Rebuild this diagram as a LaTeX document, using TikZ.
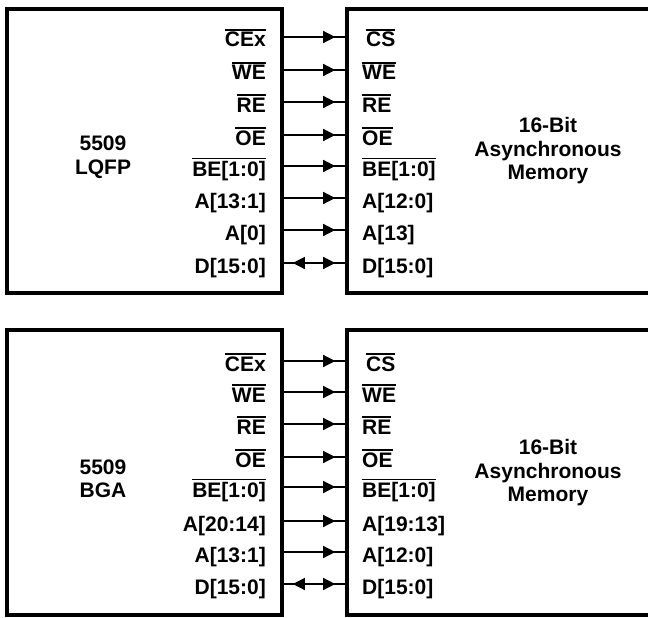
\documentclass[tikz,border=0pt]{standalone}
\usepackage{fontspec}
\setmainfont{Liberation Sans}
\usetikzlibrary{arrows.meta}
\newcommand\ovl[1]{\vbox{\hrule height 1.3pt\kern 1.8pt\hbox{#1}}}
\begin{document}
\begin{tikzpicture}[x=1pt,y=-1pt,
  box/.style={draw,line width=3.6pt,minimum width=275pt,minimum height=284pt,inner sep=0pt},
  membox/.style={box,minimum width=353pt},
  sig/.style={line width=1.3pt},
  tip/.tip={Triangle[length=12pt,width=12pt]},
  head/.style={sig,-tip,shorten >=10pt},
  dhead/.style={sig,tip-tip,shorten >=10pt,shorten <=9pt},
  lbl/.style={font=\fontsize{21}{23.5}\selectfont\bfseries,inner sep=0pt},
  pinL/.style={lbl,anchor=base east},
  pinR/.style={lbl,anchor=base west},
  title/.style={lbl,align=center}]
\useasboundingbox (0,0) rectangle (648,618);
% ---------- top pair ----------
\node[box] (cpuA) at (144.5,151) {};
\node[membox] (memA) at (523.5,151) {};
\node[title] (tcpuA) at (103,157) {5509\\LQFP};
\node[title] (tmemA) at (548,151) {16-Bit\\Asynchronous\\Memory};
\foreach \i/\y/\l/\r in {1/37/\ovl{CEx}/\kern4pt\ovl{CS},
                         2/70/\ovl{WE}/\ovl{WE},
                         3/102/\ovl{RE}/\ovl{RE},
                         4/135/\ovl{OE}/\ovl{OE},
                         5/166/\ovl{BE[1:0]}/\ovl{BE[1:0]},
                         6/198/A[13:1]/A[12:0],
                         7/230/A[0]/A[13],
                         8/263/D[15:0]/D[15:0]}{
  \coordinate (ra\i) at (0,\y);
  \node[pinL] (la\i) at (266,\y+10) {\l};
  \node[pinR] (ma\i) at (362,\y+10) {\r};
  \draw[sig] (cpuA.east |- ra\i) -- (memA.west |- ra\i);
}
\foreach \i in {1,...,7}{
  \draw[head] (cpuA.east |- ra\i) -- (memA.west |- ra\i);
}
\draw[dhead] (cpuA.east |- ra8) -- (memA.west |- ra8);
% ---------- bottom pair ----------
\node[box,minimum height=285pt] (cpuB) at (144.5,472.5) {};
\node[membox,minimum height=285pt] (memB) at (523.5,472.5) {};
\node[title] (tcpuB) at (103,479) {5509\\BGA};
\node[title] (tmemB) at (548,473) {16-Bit\\Asynchronous\\Memory};
\foreach \i/\y/\l/\r in {1/361/\ovl{CEx}/\kern4pt\ovl{CS},
                         2/392/\ovl{WE}/\ovl{WE},
                         3/424/\ovl{RE}/\ovl{RE},
                         4/457/\ovl{OE}/\ovl{OE},
                         5/487/\ovl{BE[1:0]}/\ovl{BE[1:0]},
                         6/521/A[20:14]/A[19:13],
                         7/552/A[13:1]/A[12:0],
                         8/584/D[15:0]/D[15:0]}{
  \coordinate (rb\i) at (0,\y);
  \node[pinL] (lb\i) at (266,\y+10) {\l};
  \node[pinR] (mb\i) at (362,\y+10) {\r};
  \draw[sig] (cpuB.east |- rb\i) -- (memB.west |- rb\i);
}
\foreach \i in {1,...,7}{
  \draw[head] (cpuB.east |- rb\i) -- (memB.west |- rb\i);
}
\draw[dhead] (cpuB.east |- rb8) -- (memB.west |- rb8);
\end{tikzpicture}
\end{document}
